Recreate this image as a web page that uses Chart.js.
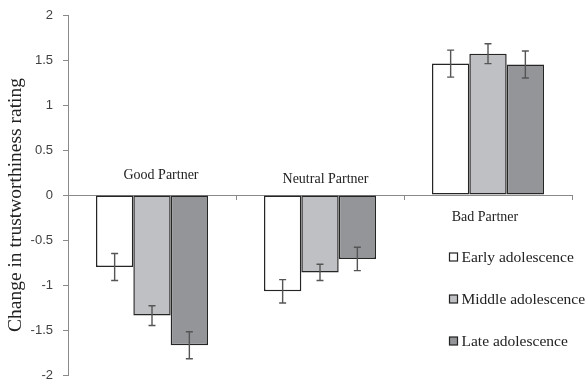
<!DOCTYPE html>
<html>
<head>
<meta charset="utf-8">
<script src="https://cdn.jsdelivr.net/npm/chart.js@4/dist/chart.umd.min.js"></script>
<style>
  html, body { margin: 0; padding: 0; background: #ffffff; }
  #wrap { position: relative; width: 587px; height: 381px; }
</style>
</head>
<body>
<div id="wrap"><canvas id="chart" width="587" height="381"></canvas></div>
<script>
// Partner conditions
const categories = ['Good Partner', 'Neutral Partner', 'Bad Partner'];

// Mean change in trustworthiness rating per age group
const earlyValues  = [-0.80, -1.07, 1.46];
const middleValues = [-1.34, -0.86, 1.57];
const lateValues   = [-1.67, -0.71, 1.45];

// Standard errors per age group
const earlyErrors  = [0.15, 0.13, 0.15];
const middleErrors = [0.11, 0.09, 0.11];
const lateErrors   = [0.15, 0.13, 0.15];

const seriesNames = ['Early adolescence', 'Middle adolescence', 'Late adolescence'];
const yTickValues = [-2, -1.5, -1, -0.5, 0, 0.5, 1, 1.5, 2];

const serif = "'Liberation Serif', 'Times New Roman', serif";
const sans = "'Liberation Sans', Arial, sans-serif";
const axisGray = '#8a8a8a';

// Error bars drawn on top of each bar
const errorBars = {
  id: 'errorBars',
  afterDatasetsDraw(chart) {
    const ctx = chart.ctx;
    const y = chart.scales.y;
    chart.data.datasets.forEach((ds, i) => {
      const meta = chart.getDatasetMeta(i);
      meta.data.forEach((bar, j) => {
        const v = ds.data[j], e = ds.errors[j];
        const yTop = y.getPixelForValue(v + e);
        const yBot = y.getPixelForValue(v - e);
        ctx.save();
        ctx.strokeStyle = '#555555';
        ctx.lineWidth = 1.4;
        ctx.beginPath();
        ctx.moveTo(bar.x, yTop); ctx.lineTo(bar.x, yBot);
        ctx.moveTo(bar.x - 3.5, yTop); ctx.lineTo(bar.x + 3.5, yTop);
        ctx.moveTo(bar.x - 3.5, yBot); ctx.lineTo(bar.x + 3.5, yBot);
        ctx.stroke();
        ctx.restore();
      });
    });
  }
};

// Category names, axis title and legend
const annotations = {
  id: 'annotations',
  afterDraw(chart) {
    const ctx = chart.ctx;
    const x = chart.scales.x;
    const y = chart.scales.y;
    ctx.save();
    ctx.fillStyle = '#222222';
    ctx.textAlign = 'center';
    ctx.textBaseline = 'middle';
    ctx.font = '14px ' + serif;
    // label offsets (dx, dy from zero line)
    const offs = [[9, -20], [5.5, -16], [-3, 22]];
    const zero = y.getPixelForValue(0);
    categories.forEach((c, i) => {
      ctx.fillText(c, x.getPixelForValue(i) + offs[i][0], zero + offs[i][1]);
    });

    // y axis title
    ctx.save();
    ctx.translate(16, 205);
    ctx.rotate(-Math.PI / 2);
    ctx.font = '19.5px ' + serif;
    ctx.fillText('Change in trustworthiness rating', 0, 0);
    ctx.restore();

    // legend
    ctx.textAlign = 'left';
    ctx.font = '15.5px ' + serif;
    const lx = 449.5, ly0 = 257, gap = 42;
    chart.data.datasets.forEach((ds, i) => {
      const cy = ly0 + i * gap;
      ctx.fillStyle = ds.backgroundColor;
      ctx.fillRect(lx, cy - 4, 8, 8);
      ctx.strokeStyle = '#222222';
      ctx.lineWidth = 1.2;
      ctx.strokeRect(lx, cy - 4, 8, 8);
      ctx.fillStyle = '#222222';
      ctx.fillText(ds.label, lx + 12, cy + 1);
    });
    ctx.restore();
  }
};

const barStyle = { borderColor: '#252525', borderWidth: 1.5, borderSkipped: false };

new Chart(document.getElementById('chart'), {
  type: 'bar',
  data: {
    labels: categories,
    datasets: [
      Object.assign({ label: seriesNames[0], data: earlyValues,  errors: earlyErrors,  backgroundColor: '#ffffff' }, barStyle),
      Object.assign({ label: seriesNames[1], data: middleValues, errors: middleErrors, backgroundColor: '#bfc0c3' }, barStyle),
      Object.assign({ label: seriesNames[2], data: lateValues,   errors: lateErrors,   backgroundColor: '#939598' }, barStyle)
    ]
  },
  options: {
    responsive: false,
    animation: false,
    devicePixelRatio: 1,
    layout: { padding: { top: 15, right: 15, bottom: 6, left: 0 } },
    datasets: { bar: { barPercentage: 1.0, categoryPercentage: 0.667 } },
    plugins: { legend: { display: false }, tooltip: { enabled: false } },
    scales: {
      x: {
        position: { y: 0 },
        afterFit(scale) { scale.height = 0; scale.paddingLeft = 0; scale.paddingRight = 0; scale.paddingTop = 0; scale.paddingBottom = 0; },
        grid: { display: true, drawOnChartArea: false, drawTicks: true, tickLength: 4, color: axisGray, offset: true },
        border: { display: true, color: axisGray, width: 1 },
        ticks: { display: false }
      },
      y: {
        min: -2, max: 2,
        afterFit(scale) { scale.width = 68; scale.paddingTop = 0; scale.paddingBottom = 0; },
        afterBuildTicks(scale) { scale.ticks = yTickValues.map(v => ({ value: v })); },
        grid: { display: true, drawOnChartArea: false, drawTicks: true, tickLength: 5, color: axisGray },
        border: { display: true, color: axisGray, width: 1 },
        ticks: {
          padding: 10,
          color: '#404040',
          font: { family: sans, size: 13 },
          callback: (v) => String(v)
        }
      }
    }
  },
  plugins: [errorBars, annotations]
});
</script>
</body>
</html>
